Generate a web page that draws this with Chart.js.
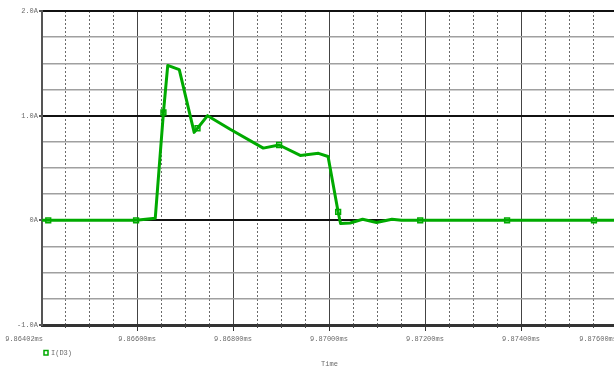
<!DOCTYPE html>
<html>
<head>
<meta charset="utf-8">
<script src="https://cdn.jsdelivr.net/npm/chart.js@4/dist/chart.umd.min.js"></script>
<style>
  html, body { margin: 0; padding: 0; background: #fff; overflow: hidden; width: 614px; height: 369px; }
  #wrap { position: relative; width: 620px; height: 369px; }
</style>
</head>
<body>
<div id="wrap"><canvas id="probe" width="620" height="369"></canvas></div>
<script>
// Diode current trace I(D3) over one switching interval
const timeMs = [9.86402, 9.86415, 9.86598, 9.86638, 9.86655, 9.86664, 9.86688, 9.86719, 9.86726,
                9.86747, 9.86794, 9.86863, 9.86896, 9.86940, 9.86978, 9.86998, 9.87019, 9.87024,
                9.87044, 9.87070, 9.87099, 9.87131, 9.87151, 9.87190, 9.87371, 9.87552, 9.87600];
const currentA = [0, 0, 0, 0.02, 1.03, 1.48, 1.44, 0.84, 0.88,
                  1.00, 0.87, 0.69, 0.72, 0.62, 0.64, 0.61, 0.08, -0.03,
                  -0.025, 0.01, -0.02, 0.01, 0, 0, 0, 0, 0];
// samples that carry the trace's square symbol
const markerTimes = [9.86415, 9.86598, 9.86655, 9.86726, 9.86896, 9.87019, 9.87190, 9.87371, 9.87552];

// axis ticks
const timeLabels = [9.86402, 9.866, 9.868, 9.870, 9.872, 9.874, 9.876];
const majorTimes = [9.866, 9.868, 9.870, 9.872, 9.874, 9.876];
const minorTimes = [9.8645, 9.865, 9.8655, 9.8665, 9.867, 9.8675, 9.8685, 9.869, 9.8695,
                    9.8705, 9.871, 9.8715, 9.8725, 9.873, 9.8735, 9.8745, 9.875, 9.8755];
const currentTicks = [-1, -0.75, -0.5, -0.25, 0, 0.25, 0.5, 0.75, 1, 1.25, 1.5, 1.75, 2];
const traceName = 'I(D3)';
const axisTitle = 'Time';

const GREEN = '#00aa00';
const TEXT = '#6a6a6a';
const FONT_FAMILY = '"Liberation Mono", "DejaVu Sans Mono", monospace';

const fmtCurrent = v => v === 0 ? '0A' : v.toFixed(1) + 'A';

// text under the plot, minor tick marks, and the trace legend
const probeDecor = {
  id: 'probeDecor',
  afterDraw(chart) {
    const { ctx, chartArea, scales: { x } } = chart;
    ctx.save();
    ctx.strokeStyle = '#444';
    ctx.lineWidth = 1;
    minorTimes.forEach(t => {
      const px = Math.round(x.getPixelForValue(t)) + 0.5;
      ctx.beginPath();
      ctx.moveTo(px, chartArea.bottom);
      ctx.lineTo(px, chartArea.bottom + 3);
      ctx.stroke();
    });

    ctx.font = '7px ' + FONT_FAMILY;
    ctx.fillStyle = TEXT;
    ctx.textBaseline = 'middle';
    timeLabels.forEach((t, i) => {
      const px = x.getPixelForValue(t);
      const edge = i === 0 || i === timeLabels.length - 1;
      ctx.textAlign = edge ? 'right' : 'center';
      ctx.fillText(t.toFixed(5) + 'ms', px + (i === 0 ? 1 : 0), chartArea.bottom + 14);
    });

    ctx.textAlign = 'center';
    ctx.fillText(axisTitle, (chartArea.left + chartArea.right) / 2, chartArea.bottom + 39.5);

    ctx.strokeStyle = GREEN;
    ctx.lineWidth = 1.5;
    ctx.strokeRect(chartArea.left + 2, chartArea.bottom + 25.5, 4, 4.5);
    ctx.textAlign = 'left';
    ctx.fillText(traceName, chartArea.left + 9, chartArea.bottom + 27.8);
    ctx.restore();
  }
};

new Chart(document.getElementById('probe'), {
  type: 'line',
  data: {
    datasets: [{
      label: traceName,
      data: timeMs.map((t, i) => ({ x: t, y: currentA[i] })),
      borderColor: GREEN,
      borderWidth: 3,
      borderJoinStyle: 'round',
      borderCapStyle: 'round',
      tension: 0,
      fill: false,
      pointStyle: 'rect',
      pointRadius: ctx => markerTimes.includes(timeMs[ctx.dataIndex]) ? 3.4 : 0,
      pointHoverRadius: 0,
      pointBorderColor: GREEN,
      pointBackgroundColor: 'rgba(0,0,0,0)',
      pointBorderWidth: 1.5
    }]
  },
  options: {
    responsive: false,
    animation: false,
    devicePixelRatio: 1,
    layout: { padding: { top: 11, right: 3, left: 0, bottom: 0 } },
    plugins: { legend: { display: false }, tooltip: { enabled: false } },
    scales: {
      x: {
        type: 'linear',
        position: 'bottom',
        min: timeLabels[0],
        max: timeLabels[timeLabels.length - 1],
        afterBuildTicks: s => { s.ticks = majorTimes.map(v => ({ value: v })); },
        afterFit: s => { s.height = 44; },
        ticks: { display: false },
        grid: { color: '#444', lineWidth: 1, drawTicks: true, tickLength: 6, tickColor: '#333' },
        border: { display: true, color: '#333', width: 3 }
      },
      xMinor: {
        type: 'linear',
        position: 'top',
        min: timeLabels[0],
        max: timeLabels[timeLabels.length - 1],
        afterBuildTicks: s => { s.ticks = minorTimes.map(v => ({ value: v })); },
        afterFit: s => { s.height = 0; },
        ticks: { display: false },
        grid: { color: '#6a6a6a', lineWidth: 1, drawTicks: false },
        border: { display: false, dash: [2, 2] }
      },
      y: {
        type: 'linear',
        position: 'left',
        min: -1,
        max: 2,
        afterBuildTicks: s => { s.ticks = currentTicks.map(v => ({ value: v })); },
        afterFit: s => { s.width = 42; },
        ticks: {
          padding: 1,
          color: TEXT,
          font: { family: FONT_FAMILY, size: 7 },
          callback: v => Number.isInteger(v) ? fmtCurrent(v) : ''
        },
        grid: {
          color: c => Number.isInteger(c.tick.value) ? '#111' : '#a0a0a0',
          lineWidth: c => Number.isInteger(c.tick.value) ? 2 : 1.6,
          drawTicks: true,
          tickLength: 3,
          tickColor: c => Number.isInteger(c.tick.value) ? '#555' : 'rgba(0,0,0,0)'
        },
        border: { display: true, color: '#555', width: 2 }
      }
    }
  },
  plugins: [probeDecor]
});
</script>
</body>
</html>
